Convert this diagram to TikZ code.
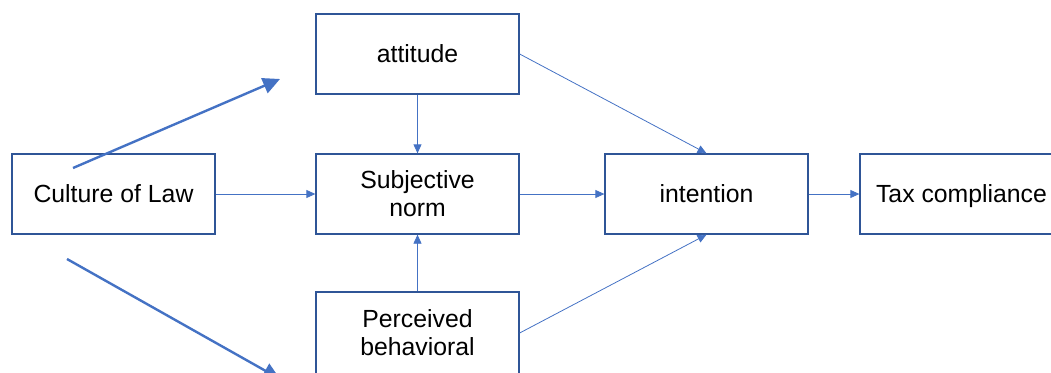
\documentclass[tikz,border=0pt]{standalone}
\usepackage{fontspec}
\setmainfont{Liberation Sans}
\usetikzlibrary{arrows.meta}
\definecolor{boxblue}{HTML}{2F5597}
\definecolor{arrblue}{HTML}{4472C4}
\tikzset{
  box/.style={draw=boxblue, line width=1.3pt, rectangle, minimum width=203pt, minimum height=80pt, inner sep=0pt, align=center, font=\fontsize{24.8}{28}\selectfont},
  thin/.style={draw=arrblue, line width=0.8pt, -{Triangle[length=9pt,width=8pt]}},
  thick/.style={draw=arrblue, line width=2.4pt, -{Triangle[length=17pt,width=16pt]}}
}
\begin{document}
\begin{tikzpicture}[x=1pt,y=-1pt]
\useasboundingbox (0,0) rectangle (1051,372);
\clip (0,0) rectangle (1051,372);
\node[box] (culture) at (113.5,194) {Culture of Law};
\node[box] (attitude) at (417.5,54) {attitude};
\node[box] (subj) at (417.5,194) {Subjective\\norm};
\node[box, minimum height=82pt] (perc) at (417.5,333) {Perceived\\behavioral};
\node[box] (intent) at (706.5,194) {intention};
\node[box, text depth=0pt] (tax) at (961.5,194) {Tax compliance};
\coordinate (a1) at (73,168);
\coordinate (a2) at (280,79);
\coordinate (b1) at (67,259);
\coordinate (b2) at (280,379);
\draw[thick] (a1) -- (a2);
\draw[thick] (b1) -- (b2);
\draw[thin] (culture.east) -- (subj.west);
\draw[thin] (attitude.south) -- (subj.north);
\draw[thin] (perc.north) -- (subj.south);
\draw[thin] (attitude.east) -- (intent.north);
\draw[thin] (perc.east) -- (intent.south);
\draw[thin] (subj.east) -- (intent.west);
\draw[thin] (intent.east) -- (tax.west);
\end{tikzpicture}
\end{document}
